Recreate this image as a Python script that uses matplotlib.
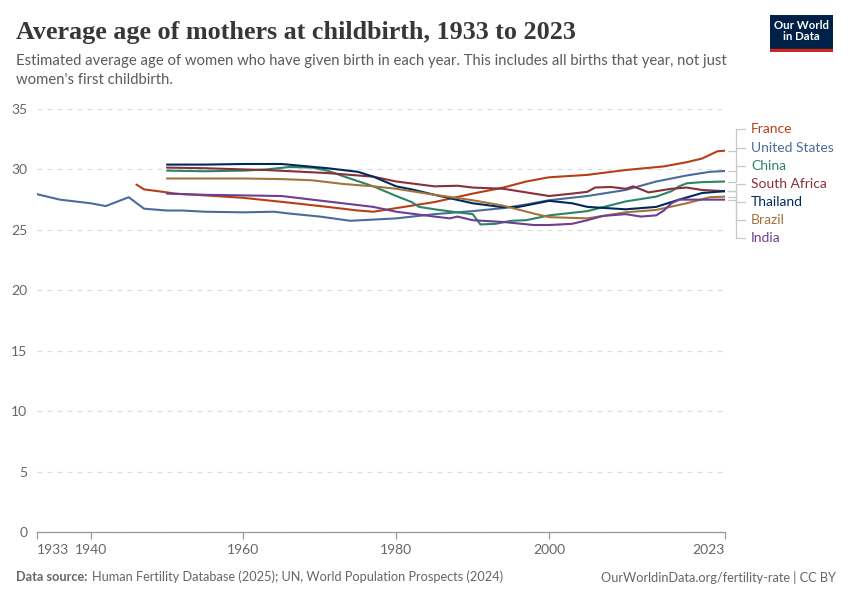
import matplotlib
matplotlib.use("Agg")
import matplotlib.pyplot as plt
from matplotlib.patches import Rectangle

# ---------------- data ----------------
us_years = [1933, 1936, 1940, 1942, 1945, 1947, 1950, 1952, 1955, 1960, 1964, 1966, 1970, 1974, 1977, 1980,
            1985, 1990, 1994, 1997, 2000, 2005, 2010, 2014, 2018, 2021, 2023]
us_vals = [27.95, 27.5, 27.2, 26.97, 27.7, 26.75, 26.6, 26.6, 26.5, 26.45, 26.5, 26.35, 26.1, 25.75, 25.85, 25.95,
           26.3, 26.55, 26.8, 27.1, 27.45, 27.8, 28.3, 29.0, 29.5, 29.8, 29.87]

france_years = [1946, 1947, 1950, 1951, 1955, 1960, 1963, 1966, 1971, 1975, 1977, 1980, 1985, 1990, 1994,
                1997, 2000, 2005, 2010, 2015, 2018, 2020, 2021, 2022, 2023]
france_vals = [28.75, 28.35, 28.1, 28.0, 27.85, 27.65, 27.45, 27.25, 26.9, 26.6, 26.5, 26.8, 27.3, 28.0, 28.5,
               29.0, 29.35, 29.55, 29.95, 30.25, 30.6, 30.9, 31.2, 31.5, 31.55]

china_years = [1950, 1955, 1960, 1963, 1966, 1969, 1971, 1973, 1977, 1980, 1982, 1983, 1985, 1988, 1990,
               1991, 1993, 1995, 1997, 2000, 2005, 2010, 2014, 2016, 2017, 2018, 2020, 2023]
china_vals = [29.9, 29.85, 29.9, 30.0, 30.2, 30.15, 29.9, 29.45, 28.6, 27.8, 27.3, 26.9, 26.7, 26.45, 26.3,
              25.45, 25.5, 25.75, 25.8, 26.2, 26.55, 27.35, 27.75, 28.2, 28.6, 28.85, 28.95, 29.0]

safrica_years = [1950, 1955, 1960, 1963, 1971, 1977, 1980, 1985, 1988, 1990, 1994, 1997, 2000, 2003, 2005,
                 2006, 2008, 2010, 2011, 2013, 2016, 2018, 2020, 2023]
safrica_vals = [30.15, 30.1, 30.0, 29.95, 29.7, 29.4, 29.0, 28.6, 28.65, 28.5, 28.4, 28.1, 27.8, 28.0, 28.15,
                28.5, 28.55, 28.4, 28.6, 28.1, 28.4, 28.5, 28.3, 28.2]

thailand_years = [1950, 1955, 1960, 1965, 1971, 1975, 1977, 1980, 1982, 1985, 1990, 1994, 1996, 1998, 2000,
                  2003, 2005, 2010, 2014, 2017, 2020, 2023]
thailand_vals = [30.4, 30.4, 30.45, 30.45, 30.1, 29.8, 29.4, 28.6, 28.35, 27.9, 27.2, 26.87, 26.9, 27.15, 27.4,
                 27.2, 26.9, 26.7, 26.9, 27.5, 28.05, 28.2]

brazil_years = [1950, 1955, 1960, 1965, 1969, 1973, 1977, 1980, 1985, 1990, 1994, 1998, 2000, 2005, 2010,
                2014, 2018, 2021, 2023]
brazil_vals = [29.25, 29.25, 29.25, 29.2, 29.1, 28.8, 28.6, 28.4, 27.9, 27.45, 27.0, 26.35, 26.05, 25.95, 26.45,
               26.65, 27.2, 27.7, 27.75]

india_years = [1950, 1955, 1960, 1965, 1969, 1973, 1977, 1980, 1985, 1987, 1988, 1990, 1994, 1998, 2000,
               2003, 2005, 2007, 2010, 2012, 2014, 2015, 2016, 2017, 2020, 2023]
india_vals = [28.0, 27.9, 27.85, 27.8, 27.5, 27.2, 26.9, 26.5, 26.1, 25.95, 26.1, 25.8, 25.65, 25.4, 25.4,
              25.5, 25.8, 26.15, 26.3, 26.1, 26.2, 26.6, 27.2, 27.5, 27.5, 27.5]

series = [
    ("France", france_years, france_vals, "#B83E15"),
    ("United States", us_years, us_vals, "#4C6A9C"),
    ("China", china_years, china_vals, "#2C8465"),
    ("South Africa", safrica_years, safrica_vals, "#883039"),
    ("Thailand", thailand_years, thailand_vals, "#00295B"),
    ("Brazil", brazil_years, brazil_vals, "#A2733B"),
    ("India", india_years, india_vals, "#6D3E91"),
]
# label vertical positions in data units (as the chart spreads them)
label_y = [33.35, 31.8, 30.3, 28.8, 27.3, 25.8, 24.3]

x_ticks = [1933, 1940, 1960, 1980, 2000, 2023]
y_ticks = [0, 5, 10, 15, 20, 25, 30, 35]

title = "Average age of mothers at childbirth, 1933 to 2023"
subtitle = ("Estimated average age of women who have given birth in each year. This includes all births that year, not just\n"
            "women's first childbirth.")

# ---------------- figure ----------------
plt.rcParams['font.family'] = ['Lato', 'DejaVu Sans']
fig = plt.figure(figsize=(8.5, 6), dpi=100)
ax = fig.add_axes([37 / 850, 1 - 532 / 600, (725 - 37) / 850, (532 - 109) / 600])
ax.set_xlim(1933, 2023)
ax.set_ylim(0, 35)

for name, xs, ys, col in series:
    ax.plot(xs, ys, color=col, lw=1.5, solid_joinstyle='round', solid_capstyle='round', zorder=3)

ax.set_yticks(y_ticks)
ax.set_xticks(x_ticks)
ax.yaxis.grid(True, color="#dddddd", linestyle=(0, (4, 4)), lw=0.9)
ax.set_axisbelow(True)
for s in ['top', 'right', 'left']:
    ax.spines[s].set_visible(False)
ax.spines['bottom'].set_color('#999999')
ax.spines['bottom'].set_linewidth(0.9)
ax.tick_params(axis='y', length=0, pad=7, labelsize=10, labelcolor='#666666')
ax.tick_params(axis='x', length=5, width=0.9, color='#999999', pad=4, labelsize=10, labelcolor='#666666')
xt = ax.get_xticklabels()
xt[0].set_horizontalalignment('left')
xt[-1].set_horizontalalignment('right')

# labels with connector lines
for (name, xs, ys, col), ly in zip(series, label_y):
    end_y = ys[-1]
    ax.plot([2023.4, 2024.4, 2024.4, 2025.6], [end_y, end_y, ly, ly], color='#c8c8c8', lw=0.9,
            clip_on=False, zorder=2, solid_joinstyle='miter')
    ax.text(2026.4, ly, name, color=col, fontsize=10, va='center', ha='left', clip_on=False)

# titles
fig.text(16 / 850, 1 - 33 / 600, title, fontsize=18.8, family=['Liberation Serif', 'DejaVu Serif'],
         color='#373737', va='center', ha='left', fontweight='bold')
fig.text(16 / 850, 1 - 70.5 / 600, subtitle, fontsize=10.75, color='#5b5b5b', va='center', ha='left',
         linespacing=1.38)

# logo
logo = fig.add_axes([770 / 850, 1 - 52 / 600, 63 / 850, 37 / 600])
logo.set_xlim(0, 1)
logo.set_ylim(0, 1)
logo.axis('off')
logo.add_patch(Rectangle((0, 0.09), 1, 0.91, color='#002147'))
logo.add_patch(Rectangle((0, 0), 1, 0.09, color='#CE261E'))
logo.text(0.5, 0.56, "Our World\nin Data", color='white', ha='center', va='center', fontsize=8.2,
          linespacing=1.0, fontweight='bold')

# footer
fig.text(16 / 850, 1 - 577 / 600, "Data source:", fontsize=9.2, color='#666666', fontweight='bold',
         va='center', ha='left')
fig.text(91.5 / 850, 1 - 577 / 600, "Human Fertility Database (2025); UN, World Population Prospects (2024)",
         fontsize=9.2, color='#666666', va='center', ha='left')
fig.text(836 / 850, 1 - 577 / 600, "OurWorldinData.org/fertility-rate | CC BY", fontsize=9.2,
         color='#666666', va='center', ha='right')

fig.savefig("out.png", dpi=100)
